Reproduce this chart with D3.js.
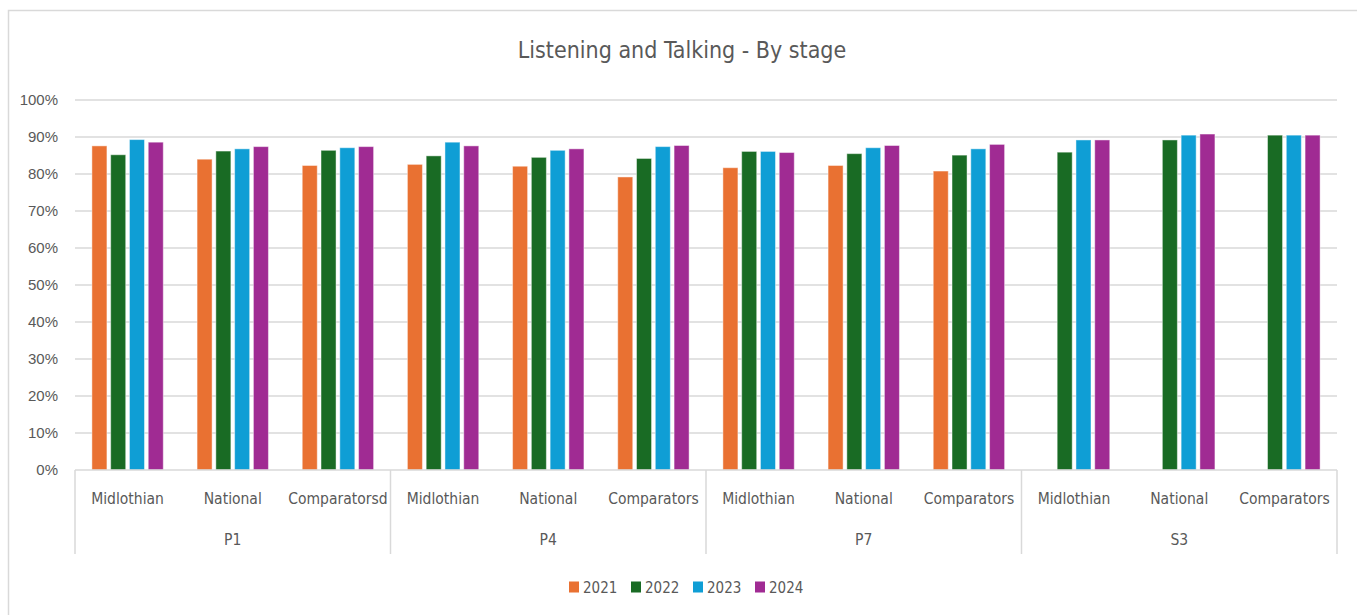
<!DOCTYPE html>
<html>
<head>
<meta charset="utf-8">
<script src="https://cdn.jsdelivr.net/npm/d3@7"></script>
<style>
  html, body { margin: 0; padding: 0; background: #fff; }
  svg { display: block; }
</style>
</head>
<body>
<svg id="chart" width="1357" height="615"></svg>
<script>
// Stages, areas and survey years
const stages = ["P1", "P4", "P7", "S3"];
const areas = {
  P1: ["Midlothian", "National", "Comparatorsd"],
  P4: ["Midlothian", "National", "Comparators"],
  P7: ["Midlothian", "National", "Comparators"],
  S3: ["Midlothian", "National", "Comparators"]
};
const years = ["2021", "2022", "2023", "2024"];

// Percentage achieving, one array per year, in stage/area order (null = no data)
const values2021 = [0.876, 0.840, 0.823, 0.826, 0.821, 0.792, 0.817, 0.823, 0.808, null, null, null];
const values2022 = [0.852, 0.862, 0.864, 0.849, 0.845, 0.842, 0.861, 0.855, 0.851, 0.859, 0.892, 0.905];
const values2023 = [0.893, 0.868, 0.871, 0.886, 0.864, 0.874, 0.861, 0.871, 0.868, 0.892, 0.905, 0.905];
const values2024 = [0.886, 0.874, 0.874, 0.876, 0.868, 0.877, 0.858, 0.877, 0.880, 0.892, 0.908, 0.905];
const seriesValues = [values2021, values2022, values2023, values2024];

const yTicks = [0, 0.1, 0.2, 0.3, 0.4, 0.5, 0.6, 0.7, 0.8, 0.9, 1.0];
const colors = ["#E97132", "#196B24", "#0F9ED5", "#A02B93"];

const narrow = "'Liberation Sans Narrow', 'DejaVu Sans Condensed', 'Arial Narrow', sans-serif";
const textColor = "#595959";
const gridColor = "#d9d9d9";

const svg = d3.select("#chart");

// Chart frame
svg.append("path")
  .attr("d", "M8.5,615 V10.5 H1357")
  .attr("fill", "none")
  .attr("stroke", gridColor)
  .attr("stroke-width", 1.5);

// Title
svg.append("text")
  .attr("x", 682)
  .attr("y", 58)
  .attr("text-anchor", "middle")
  .attr("font-family", narrow)
  .attr("font-size", 23)
  .attr("fill", textColor)
  .text("Listening and Talking - By stage");

const plot = { left: 75, right: 1337, top: 100, bottom: 470 };

// Flat category keys (stage|area)
const cats = [];
stages.forEach(s => areas[s].forEach(a => cats.push(s + "|" + a)));

const x0 = d3.scaleBand().domain(cats).range([plot.left, plot.right]).paddingInner(0).paddingOuter(0);
const stageScale = d3.scaleBand().domain(stages).range([plot.left, plot.right]);
const x1 = d3.scaleBand().domain(years).range([0, x0.bandwidth()]).paddingInner(0.2).paddingOuter(0.9);
const y = d3.scaleLinear().domain([0, 1]).range([plot.bottom, plot.top]);

// Gridlines
svg.append("g")
  .selectAll("line")
  .data(yTicks.slice(1))
  .join("line")
  .attr("x1", plot.left)
  .attr("x2", plot.right)
  .attr("y1", d => y(d))
  .attr("y2", d => y(d))
  .attr("stroke", gridColor)
  .attr("stroke-width", 1.5);

// Y axis labels
const yAxis = d3.axisLeft(y).tickValues(yTicks).tickFormat(d3.format(".0%")).tickSize(0).tickPadding(17);
svg.append("g")
  .attr("transform", `translate(${plot.left},0)`)
  .call(yAxis)
  .call(g => g.select(".domain").remove())
  .call(g => g.selectAll("text")
    .attr("font-family", "'Liberation Sans', Arial, sans-serif")
    .attr("font-size", 15)
    .attr("fill", textColor));

// Bars
const barData = [];
seriesValues.forEach((arr, si) => {
  arr.forEach((v, ci) => {
    if (v != null) barData.push({ cat: cats[ci], year: years[si], value: v, color: colors[si] });
  });
});

svg.append("g")
  .selectAll("rect")
  .data(barData)
  .join("rect")
  .attr("x", d => x0(d.cat) + x1(d.year))
  .attr("width", x1.bandwidth())
  .attr("y", d => y(d.value))
  .attr("height", d => y(0) - y(d.value))
  .attr("fill", d => d.color)
  .attr("stroke", "#ffffff")
  .attr("stroke-opacity", 0.45)
  .attr("stroke-width", 1);

// Category axis line and stage dividers
const axisG = svg.append("g");
axisG.append("line")
  .attr("x1", plot.left).attr("x2", plot.right)
  .attr("y1", plot.bottom).attr("y2", plot.bottom)
  .attr("stroke", gridColor).attr("stroke-width", 1.5);

const dividers = stages.map(s => stageScale(s)).concat([plot.right]);
axisG.selectAll("line.div")
  .data(dividers)
  .join("line")
  .attr("class", "div")
  .attr("x1", d => d).attr("x2", d => d)
  .attr("y1", plot.bottom).attr("y2", 554)
  .attr("stroke", gridColor).attr("stroke-width", 1.5);

// Area labels
axisG.selectAll("text.area")
  .data(cats)
  .join("text")
  .attr("class", "area")
  .attr("x", d => x0(d) + x0.bandwidth() / 2)
  .attr("y", 504)
  .attr("text-anchor", "middle")
  .attr("font-family", narrow)
  .attr("font-size", 15.5)
  .attr("fill", textColor)
  .text(d => d.split("|")[1]);

// Stage labels
axisG.selectAll("text.stage")
  .data(stages)
  .join("text")
  .attr("class", "stage")
  .attr("x", d => stageScale(d) + stageScale.bandwidth() / 2)
  .attr("y", 545)
  .attr("text-anchor", "middle")
  .attr("font-family", narrow)
  .attr("font-size", 15.5)
  .attr("fill", textColor)
  .text(d => d);

// Legend
const legend = svg.append("g");
const legendX = d3.scaleBand().domain(years).range([569, 817]);
const items = legend.selectAll("g")
  .data(years)
  .join("g")
  .attr("transform", d => `translate(${legendX(d)},0)`);
items.append("rect")
  .attr("x", 0).attr("y", 581.5)
  .attr("width", 10).attr("height", 11)
  .attr("fill", (d, i) => colors[i]);
items.append("text")
  .attr("x", 14).attr("y", 593)
  .attr("font-family", narrow)
  .attr("font-size", 15)
  .attr("fill", textColor)
  .text(d => d);
</script>
</body>
</html>
